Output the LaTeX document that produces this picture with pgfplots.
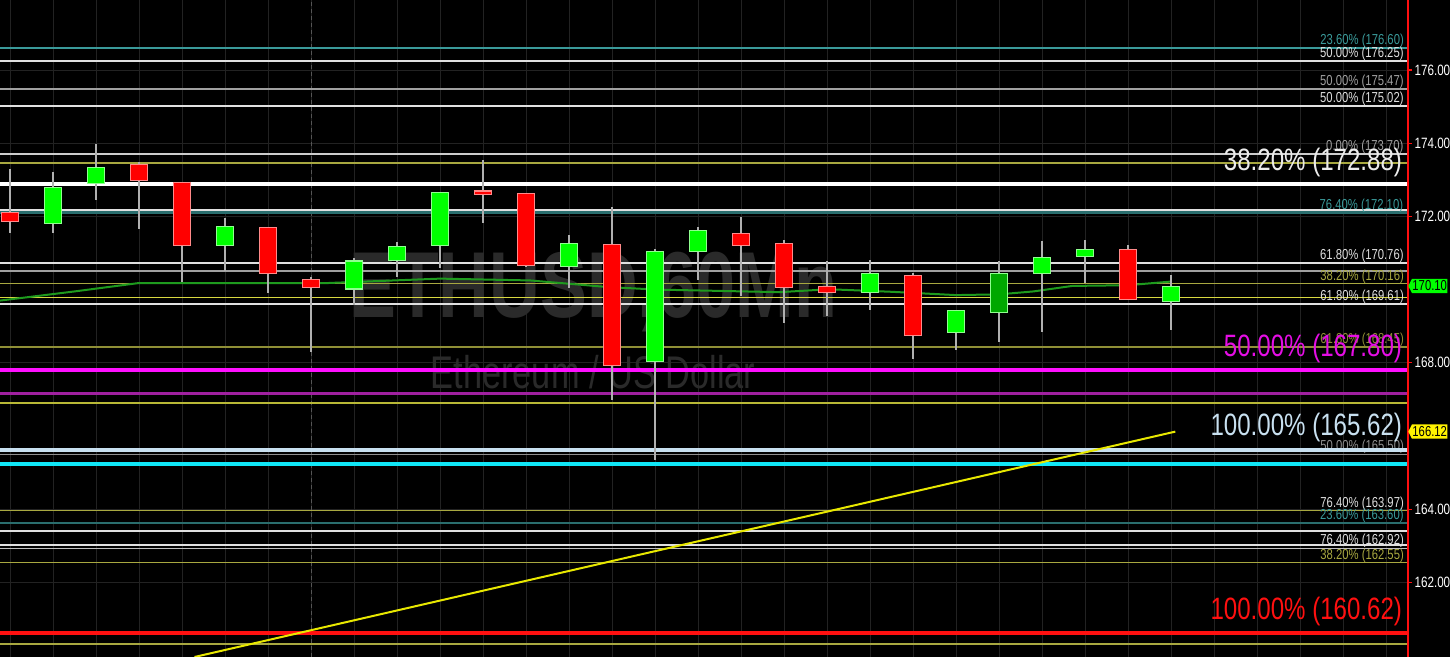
\documentclass[border=0pt]{standalone}
\usepackage{fontspec}
\setmainfont{Liberation Sans}[FakeStretch=0.78]
\newfontfamily\wmfont{Liberation Sans}[FakeStretch=0.75]
\usepackage{pgfplots}
\pgfplotsset{compat=1.18}
\usepackage{pgfplotstable}
\usetikzlibrary{shapes.symbols}

\definecolor{gridc}{HTML}{222222}
\definecolor{wmc}{HTML}{2A2A2A}
\definecolor{tealc}{HTML}{3A9A9A}
\definecolor{teald}{HTML}{2A6E6E}
\definecolor{whitec}{HTML}{E0E0E0}
\definecolor{greyc}{HTML}{A0A0A0}
\definecolor{olivec}{HTML}{A8A840}
\definecolor{yellc}{HTML}{D8D840}
\definecolor{magc}{HTML}{FF10FF}
\definecolor{purpc}{HTML}{A020A0}
\definecolor{lblue}{HTML}{C8E0F0}
\definecolor{cyanc}{HTML}{10E8F8}
\definecolor{redc}{HTML}{FF1010}
\definecolor{cred}{HTML}{FF0000}
\definecolor{credo}{HTML}{FF8A8A}
\definecolor{cgreen}{HTML}{00FF00}
\definecolor{cgreeno}{HTML}{90FF90}
\definecolor{cdgreen}{HTML}{00A800}
\definecolor{wickc}{HTML}{B0B0B0}
\definecolor{mac}{HTML}{1E9A1E}
\definecolor{trendc}{HTML}{E8E800}
\definecolor{sepc}{HTML}{555555}

\pgfplotstableread{
x o h l c
0 172.12 173.30 171.55 171.85
3 173.43 173.49 171.66 172.97
4 172.94 172.94 170.20 171.19
6 171.71 171.71 169.90 170.43
7 170.29 170.35 168.30 170.04
11 172.69 173.54 171.82 172.61
12 172.64 172.64 170.62 170.64
14 171.25 172.26 166.98 167.91
17 171.55 171.98 169.83 171.19
18 171.27 171.35 169.09 170.04
19 170.10 170.78 169.28 169.90
21 170.40 170.45 168.10 168.73
26 171.11 171.22 169.72 169.72
}\tabred

\pgfplotstableread{
x o h l c
1 171.79 173.21 171.55 172.80
2 172.88 173.98 172.45 173.35
5 171.19 171.96 170.51 171.74
8 170.00 170.85 169.58 170.80
9 170.78 171.30 170.34 171.19
10 171.19 172.67 170.59 172.67
13 170.62 171.49 170.04 171.27
15 168.02 171.10 165.34 171.05
16 171.03 171.71 170.26 171.63
20 169.90 170.80 169.44 170.45
22 168.81 169.44 168.35 169.44
24 170.43 171.33 168.84 170.89
25 170.89 171.36 170.18 171.11
27 169.66 170.40 168.90 170.10
}\tabgreen

\pgfplotstableread{
x o h l c
23 169.36 170.78 168.57 170.45
}\tabdgreen

\newcommand\HL[3]{\addplot[#1] coordinates {(-0.2326,#2) (32.512,#2)} #3;}
\newcommand\SL[2]{node[pos=1, anchor=base east, inner sep=0pt, xshift=-3.5bp, yshift=3.5bp, font=\fontsize{14.5}{14.5}\selectfont, text=#1]{#2}}
\newcommand\BL[2]{node[pos=1, anchor=base east, inner sep=0pt, xshift=-4bp, yshift=14bp, font=\fontsize{31}{31}\selectfont, text=#1]{#2}}

\pgfplotsset{
  wick/.style={draw=none, mark=none, error bars/.cd, y dir=both, y explicit, error mark=none,
    error bar style={draw=wickc, line width=1.3bp}},
  body/.style 2 args={draw=none, mark=none, error bars/.cd, y dir=both, y explicit, error mark=none,
    error bar style={draw=#1, line width=#2, line cap=butt}},
}

\begin{document}
\begin{tikzpicture}[x=1bp,y=1bp]
\useasboundingbox (0,0) rectangle (1450,657);
\fill[black] (0,0) rectangle (1450,657);
\begin{axis}[
  at={(0,0)}, anchor=south west,
  scale only axis, width=1408bp, height=657bp,
  xmin=-0.2326, xmax=32.512, ymin=159.962, ymax=177.913,
  clip=false,
  axis line style={draw=none},
  xtick={0,...,32}, xticklabels={}, xtick style={draw=none},
  xmajorgrids, ymajorgrids,
  major grid style={draw=gridc, line width=1bp},
  ytick={162,164,168,172,174,176,178}, ytick pos=right, yticklabel pos=right,
  tick align=outside, major tick length=4bp,
  ytick style={draw=redc, line width=1.2bp},
  yticklabel style={font=\fontsize{15}{15}\selectfont, text=white, xshift=-1bp},
  /pgf/number format/fixed, /pgf/number format/fixed zerofill,
  /pgf/number format/precision=2, /pgf/number format/assume math mode=true,
]
% watermark
\node[anchor=base, inner sep=0pt, text=wmc, font=\wmfont\bfseries\fontsize{94}{94}\selectfont] at (axis cs:13.56,169.25) {ETHUSD,60Mn};
\node[anchor=base, inner sep=0pt, text=wmc, font=\wmfont\fontsize{46}{46}\selectfont] at (axis cs:13.56,167.31) {Ethereum / US Dollar};

% day separator
\addplot[draw=sepc, line width=1bp, dash pattern=on 4bp off 3bp] coordinates {(7,159.962) (7,177.913)};

% horizontal levels with small labels
\HL{draw=tealc, line width=1.5bp}{176.60}{\SL{tealc}{23.60\% (176.60)}}
\HL{draw=whitec, line width=2bp}{176.25}{\SL{whitec}{50.00\% (176.25)}}
\HL{draw=greyc, line width=2bp}{175.47}{\SL{greyc}{50.00\% (175.47)}}
\HL{draw=whitec, line width=2bp}{175.02}{\SL{whitec}{50.00\% (175.02)}}
\HL{draw=white!80!black, line width=2.5bp}{173.70}{\SL{greyc}{0.00\% (173.70)}}
\HL{draw=olivec, line width=1.5bp}{173.46}{}
\HL{draw=whitec, line width=1.5bp}{172.17}{}
\HL{draw=teald, line width=3bp}{172.10}{\SL{tealc}{76.40\% (172.10)}}
\HL{draw=whitec, line width=2bp}{170.74}{\SL{whitec}{61.80\% (170.76)}}
\HL{draw=greyc, line width=2bp}{170.51}{}
\HL{draw=olivec, line width=1.5bp}{170.16}{\SL{olivec}{38.20\% (170.16)}}
\HL{draw=yellc, line width=1.5bp}{169.79}{}
\HL{draw=whitec, line width=1.5bp}{169.61}{\SL{whitec}{61.80\% (169.61)}}
\HL{draw=olivec!85!black, line width=1.5bp}{168.43}{\SL{olivec!85!black}{61.80\% (168.45)}}
\HL{draw=purpc, line width=2.5bp}{167.16}{}
\HL{draw=yellc!85!black, line width=1.5bp}{166.90}{}
\HL{draw=greyc!90!black, line width=1.5bp}{165.50}{\SL{greyc!90!black}{50.00\% (165.50)}}
\HL{draw=cyanc, line width=4bp}{165.23}{}
\HL{draw=olivec, line width=1.5bp}{163.96}{\SL{whitec}{76.40\% (163.97)}}
\HL{draw=teald, line width=2bp}{163.62}{\SL{tealc}{23.60\% (163.60)}}
\HL{draw=whitec, line width=1.5bp}{163.40}{}
\HL{draw=whitec, line width=1.5bp}{163.02}{}
\HL{draw=white!75!black, line width=1.5bp}{162.93}{\SL{whitec}{76.40\% (162.92)}}
\HL{draw=olivec, line width=1.5bp}{162.54}{\SL{olivec}{38.20\% (162.55)}}
\HL{draw=olivec, line width=1.5bp}{160.32}{}
% big levels
\HL{draw=white, line width=4bp}{172.88}{\BL{white!92!black}{38.20\% (172.88)}}
\HL{draw=magc, line width=4bp}{167.80}{\BL{magc!90!black}{50.00\% (167.80)}}
\HL{draw=lblue, line width=4bp}{165.62}{\BL{lblue}{100.00\% (165.62)}}
\HL{draw=redc, line width=4bp}{160.61}{\BL{redc}{100.00\% (160.62)}}

% trend line
\addplot[draw=trendc, line width=2bp] coordinates {(4.29,159.962) (27.1,166.12)};
% moving average
\addplot[draw=mac, line width=2bp] coordinates {
(-0.2326,169.70) (1.5,169.95) (3.0,170.18) (5.0,170.18) (7.4,170.18) (10.0,170.30)
(12.1,170.25) (13.9,170.07) (15.05,170.00) (17.9,169.93) (19.05,170.01) (20.5,169.94)
(22.0,169.85) (23.0,169.87) (23.8,169.95) (24.7,170.10) (26.0,170.12) (27.0,170.22)};

% wicks
\addplot[wick] table[x=x, y expr={(\thisrow{h}+\thisrow{l})/2}, y error expr={(\thisrow{h}-\thisrow{l})/2}] {\tabred};
\addplot[wick] table[x=x, y expr={(\thisrow{h}+\thisrow{l})/2}, y error expr={(\thisrow{h}-\thisrow{l})/2}] {\tabgreen};
\addplot[wick] table[x=x, y expr={(\thisrow{h}+\thisrow{l})/2}, y error expr={(\thisrow{h}-\thisrow{l})/2}] {\tabdgreen};
% bodies: outline then fill
\addplot[body={credo}{18bp}] table[x=x, y expr={(\thisrow{o}+\thisrow{c})/2}, y error expr={max(abs(\thisrow{o}-\thisrow{c})/2,0.06)}] {\tabred};
\addplot[body={cred}{15.5bp}] table[x=x, y expr={(\thisrow{o}+\thisrow{c})/2}, y error expr={max(abs(\thisrow{o}-\thisrow{c})/2-0.035,0.025)}] {\tabred};
\addplot[body={cgreeno}{18bp}] table[x=x, y expr={(\thisrow{o}+\thisrow{c})/2}, y error expr={max(abs(\thisrow{o}-\thisrow{c})/2,0.06)}] {\tabgreen};
\addplot[body={cgreen}{15.5bp}] table[x=x, y expr={(\thisrow{o}+\thisrow{c})/2}, y error expr={max(abs(\thisrow{o}-\thisrow{c})/2-0.035,0.025)}] {\tabgreen};
\addplot[body={cgreeno}{18bp}] table[x=x, y expr={(\thisrow{o}+\thisrow{c})/2}, y error expr={max(abs(\thisrow{o}-\thisrow{c})/2,0.06)}] {\tabdgreen};
\addplot[body={cdgreen}{15.5bp}] table[x=x, y expr={(\thisrow{o}+\thisrow{c})/2}, y error expr={max(abs(\thisrow{o}-\thisrow{c})/2-0.035,0.025)}] {\tabdgreen};

% red axis line
\draw[draw=redc, line width=2bp] (rel axis cs:1,0) -- (rel axis cs:1,1);
% price tags
\node[signal, signal to=west, signal pointer angle=125, fill=cgreen, text=black, inner xsep=0.5bp, inner ysep=2bp, anchor=west, font=\fontsize{14.5}{14.5}\selectfont] at (axis cs:32.512,170.10) {170.10};
\node[signal, signal to=west, signal pointer angle=125, fill=yellow, text=black, inner xsep=0.5bp, inner ysep=2bp, anchor=west, font=\fontsize{14.5}{14.5}\selectfont] at (axis cs:32.512,166.12) {166.12};
\end{axis}
\end{tikzpicture}
\end{document}
